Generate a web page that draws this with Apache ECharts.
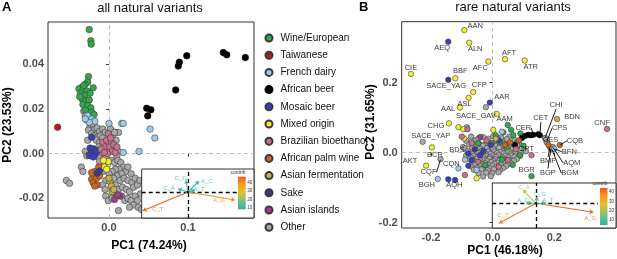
<!DOCTYPE html>
<html>
<head>
<meta charset="utf-8">
<script src="https://cdn.jsdelivr.net/npm/echarts/dist/echarts.min.js"></script>
<style>
  html, body { margin: 0; padding: 0; background: #fff; }
  #chart { width: 617px; height: 259px; }
</style>
</head>
<body>
<div id="chart"></div>
<script>
// ---- data: panel A (all natural variants) ----
const aWine = [[-0.025,0.0555],[-0.023,0.0505],[-0.0225,0.049],[-0.026,0.0345],[-0.027,0.032],[-0.03,0.031],[-0.035,0.0295],[-0.038,0.029],[-0.033,0.0285],[-0.028,0.028],[-0.036,0.027],[-0.031,0.026],[-0.034,0.0245],[-0.029,0.0235],[-0.025,0.024],[-0.033,0.022],[-0.027,0.0215],[-0.023,0.0205],[-0.03,0.0195],[-0.022,0.0185],[-0.019,0.0175],[-0.02,0.0295],[-0.024,0.027],[-0.037,0.0255],[-0.032,0.0305]];
const aTaiwan = [[-0.065,0.0118]];
const aDairy = [[-0.027,0.017],[-0.022,0.0155],[-0.018,0.0145],[-0.025,0.014],[-0.03,0.0155],[0.0,0.0135],[0.016,0.0135],[0.018,0.0135],[0.018,0.0005],[0.038,0.001],[0.052,0.011],[0.058,0.007]];
const aAfrBeer = [[0.0477,0.0203],[0.053,0.0196],[0.049,0.0169],[0.0844,0.0285],[0.0877,0.0392],[0.089,0.0409],[0.0984,0.0438],[0.1447,0.0452],[0.149,0.0442],[0.1725,0.043]];
const aMosaic = [[-0.022,0.0073],[-0.024,0.0025],[-0.02,0.0022],[-0.017,0.0015],[-0.023,0.0],[-0.018,-0.0005],[-0.025,-0.0008],[-0.02,-0.0015],[-0.015,0.001]];
const aMixed = [[-0.005,-0.004],[-0.002,-0.005],[-0.006,-0.006],[-0.001,-0.0035],[-0.003,-0.007],[-0.007,-0.003]];
const aBrazil = [[-0.001,0.009],[-0.008,0.005],[-0.003,0.006],[0.003,0.005],[-0.005,0.003],[0.001,0.003],[0.006,0.004],[-0.01,0.002],[0.004,0.001],[-0.002,0.0],[0.008,0.0005],[-0.006,0.0005],[0.01,0.003],[0.002,0.007]];
const aPalm = [[-0.018,-0.008],[-0.022,-0.0115],[-0.016,-0.011],[-0.02,-0.013],[-0.015,-0.014],[-0.022,-0.0085],[-0.012,-0.01],[-0.018,-0.0145],[-0.013,-0.006]];
const aAsianFerm = [[0.001,-0.0125],[0.003,-0.0145],[0.004,-0.017],[0.0,-0.011],[0.006,-0.016]];
const aSake = [[-0.015,-0.0088],[-0.012,-0.0078]];
const aIslands = [[0.007,-0.0205],[0.014,-0.019],[0.011,-0.0185]];
const aOther = [[-0.032,0.019],[-0.03,0.017],[-0.028,0.015],[-0.024,0.012],[-0.02,0.013],[-0.018,0.011],[-0.015,0.0115],[-0.026,0.0105],[-0.012,0.01],[-0.008,0.011],[-0.005,0.0095],[0.004,0.009],[0.008,0.0095],[0.012,0.0095],
  [-0.022,0.009],[-0.019,0.008],[-0.014,0.0075],[-0.011,0.008],[-0.016,0.006],[-0.012,0.005],[-0.008,0.007],[-0.027,0.006],[0.005,0.007],[0.009,0.006],
  [-0.03,0.001],[-0.028,-0.001],[-0.013,0.003],[-0.01,0.0],[-0.012,-0.002],[0.006,0.002],[0.012,0.001],[0.01,-0.001],[-0.008,-0.003],
  [-0.01,-0.005],[-0.004,-0.002],[0.003,-0.003],[0.007,-0.004],[0.011,-0.003],[0.015,-0.004],[0.018,-0.006],[0.013,-0.007],[0.008,-0.007],[0.004,-0.008],[0.0,-0.009],[-0.008,-0.008],[0.021,-0.008],[0.016,-0.009],[0.024,-0.006],[0.028,-0.009],[-0.012,-0.0035],
  [0.01,-0.01],[0.006,-0.011],[0.014,-0.012],[0.019,-0.011],[0.024,-0.012],[0.029,-0.013],[0.033,-0.011],[-0.004,-0.012],[-0.008,-0.014],[-0.005,-0.016],[0.008,-0.014],[0.012,-0.016],[0.017,-0.015],[0.022,-0.016],[0.026,-0.017],[0.031,-0.015],[0.036,-0.014],[0.039,-0.012],
  [-0.004,-0.019],[-0.001,-0.021],[0.004,-0.02],[0.009,-0.018],[0.016,-0.019],[0.02,-0.021],[0.024,-0.02],[0.028,-0.021],[0.033,-0.019],[0.036,-0.021],[0.04,-0.018],[0.031,-0.023],[0.037,-0.024],[0.041,-0.025],[0.026,-0.024],[0.012,-0.0255],
  [-0.054,-0.012],[-0.05,-0.0133],[-0.035,-0.006],[-0.033,-0.008],[0.002,0.011],[0.007,0.0095]];

// ---- data: panel B (rare natural variants), third item = label ----
const bWine = [[-0.047,0.027],[-0.003,0.027],[0.024,0.031],[0.067,0.05],[0.088,-0.007],[-0.025,-0.035],[0.045,0.015],[0.08,0.03],[0.03,-0.02],[0.06,0.065],[0.049,0.079],[0.01,0.05],[0.09,0.055],[0.035,0.058],[0.1,0.02],[0.065,-0.035],[0.126,-0.067,'BGR']];
const bDairy = [[-0.068,0.031],[-0.052,-0.049],[-0.111,-0.045,'CQN'],[0.078,0.022],[-0.178,-0.075,'BGH'],[0.2,0.011,'BFN'],[0.03,0.06],[-0.09,-0.02]];
const bAfrBeer = [[0.095,0.042],[0.105,0.048],[0.115,0.051],[0.132,0.051,'CER'],[0.148,0.053],[0.153,0.05,'CET'],[0.124,0.05],[0.072,0.022]];
const bMosaic = [[-0.144,0.317,'AEQ'],[-0.009,0.143,'AAR'],[-0.144,-0.076,'AQH'],[-0.122,-0.078],[-0.006,0.022],[-0.079,-0.002],[-0.068,-0.021],[-0.041,-0.007],[-0.079,-0.037],[0.02,0.035],[-0.03,0.005]];
const bSake = [[-0.144,0.208,'SACE_YAG'],[-0.058,0.01]];
const bMixed = [[-0.092,0.35,'AAN'],[-0.076,0.314,'ALN'],[0.04,0.267,'AFT'],[0.104,0.263,'ATR'],[-0.014,0.26,'AFC'],[-0.265,0.225,'CIE'],[-0.121,0.2125,'BBF'],[-0.063,0.173,'CFP'],[-0.078,0.157,'ASL'],[-0.106,0.129,'AAL'],[0.013,0.111,'AAM'],[-0.142,0.084,'CHG'],[-0.197,0.015,'BCR'],[-0.216,-0.037,'AKT'],[-0.111,0.073],[-0.095,0.067],[-0.093,0.041],[-0.052,-0.073],[0.002,0.065]];
const bBrazil = [[-0.1,0.046],[-0.068,0.027],[-0.047,-0.026],[0.05,-0.021],[-0.09,-0.064],[-0.082,0.067],[0.371,0.068,'CNF'],[0.126,-0.007,'CPT'],[-0.02,0.035],[0.02,-0.04],[0.075,0.01]];
const bPalm = [[0.04,0.022],[0.056,0.029],[0.181,0.022,'CES'],[0.218,0.022,'CQB'],[0.085,0.035]];
const bAsianFerm = [[0.209,0.096,'BDN'],[0.01,0.04]];
const bIslands = [[-0.04,0.045]];
const bOther = [[-0.022,0.13,'SACE_GAV'],[-0.227,0.031,'SACE_YAP'],[-0.169,-0.019,'CQF'],[-0.096,0.016,'BDS'],[0.17,0.042,'CHI'],[0.175,0.03,'CPS'],[0.186,0.016,'BMF'],[0.189,0.012,'BGP'],[0.195,0.016,'AQM'],[0.192,0.01,'BGM'],
  [-0.084,0.073],[-0.07,0.046],[-0.031,0.044],[0.002,0.047],[0.028,0.043],[0.054,0.046],
  [-0.086,0.034],[-0.056,0.036],[-0.018,0.033],[0.011,0.037],[0.041,0.034],[0.071,0.036],
  [-0.046,0.041],[-0.014,0.04],[0.016,0.042],[0.046,0.039],
  [-0.076,0.024],[-0.044,0.026],[-0.026,0.023],[-0.004,0.026],[0.014,0.024],[0.036,0.025],[0.061,0.023],[0.086,0.026],
  [-0.056,0.018],[-0.031,0.02],[-0.011,0.017],[0.009,0.019],[0.031,0.018],[0.054,0.02],[0.079,0.017],
  [-0.091,0.012],[-0.066,0.014],[-0.041,0.011],[-0.019,0.013],[0.001,0.012],[0.021,0.014],[0.044,0.011],[0.066,0.013],[0.101,0.011],
  [-0.081,0.004],[-0.054,0.002],[-0.036,0.005],[-0.014,0.003],[0.006,0.004],[0.026,0.002],[0.049,0.004],[0.074,0.003],[0.108,0.004],
  [-0.066,-0.003],[-0.046,-0.001],[-0.024,-0.002],[-0.006,-0.003],[0.014,-0.001],[0.036,-0.002],[0.059,-0.003],[0.091,-0.001],
  [-0.086,-0.008],[-0.061,-0.009],[-0.039,-0.007],[-0.021,-0.009],[0.001,-0.008],[0.019,-0.007],[0.041,-0.009],[0.061,-0.008],[0.089,-0.009],
  [-0.071,-0.014],[-0.049,-0.012],[-0.029,-0.014],[-0.009,-0.013],[0.011,-0.012],[0.031,-0.014],[0.051,-0.013],[0.071,-0.012],
  [-0.074,-0.019],[-0.051,-0.018],[-0.031,-0.02],[-0.011,-0.017],[0.009,-0.019],[0.029,-0.018],[0.049,-0.02],[0.079,-0.018],
  [-0.061,-0.024],[-0.041,-0.022],[-0.019,-0.024],[0.001,-0.023],[0.021,-0.022],[0.041,-0.024],[0.069,-0.023],
  [-0.066,-0.029],[-0.044,-0.028],[-0.024,-0.03],[-0.004,-0.027],[0.016,-0.029],[0.036,-0.028],[0.059,-0.03],
  [-0.056,-0.034],[-0.034,-0.033],[-0.014,-0.035],[0.006,-0.032],[0.026,-0.034],[0.049,-0.033],
  [-0.071,-0.039],[-0.041,-0.038],[-0.021,-0.04],[-0.001,-0.037],[0.019,-0.039],[0.044,-0.038],
  [-0.051,-0.044],[-0.031,-0.043],[-0.009,-0.045],[0.011,-0.042],[0.034,-0.044],
  [-0.061,-0.049],[-0.036,-0.048],[-0.016,-0.05],[0.004,-0.047],[0.024,-0.049],
  [-0.046,-0.058],[-0.021,-0.057],[-0.001,-0.059],[0.019,-0.056],
  [-0.031,-0.068],[-0.006,-0.067]];

// ---- loadings (biplot insets) ----
const loadNames = ['C_T','A_G','C_A','C_G','A_C','A_T'];
const loadAx = [-0.978, 1.015, -0.216, -0.043, 0.238, 0.15];
const loadAy = [-0.719, -0.308, 0.115, 0.46, 0.42, 0.08];
const contribA = [46, 40, 10, 11, 10, 10];
const loadBx = [-0.847, 1.311, -0.297, 0.023, -0.229, 0.229];
const loadBy = [-0.81, -0.364, 0.538, 0.255, 0.012, 0.012];
const contribB = [40, 43, 22, 10, 10, 10];
const contribTicks = [10, 20, 30, 40];

const axisTicksA_x = [0, 0.1];
const axisTicksA_y = [-0.02, 0, 0.02, 0.04];
const axisTicksB = [-0.2, 0, 0.2];

// ---- styling ----
const groupNames = ['Wine/European','Taiwanese','French dairy','African beer','Mosaic beer','Mixed origin','Brazilian bioethanol','African palm wine','Asian fermentation','Sake','Asian islands','Other'];
const groupColors = {
  'Wine/European': '#34a84c', 'Taiwanese': '#c1161c', 'French dairy': '#9fcbea', 'African beer': '#000000',
  'Mosaic beer': '#3a3fc2', 'Mixed origin': '#f3ee33', 'Brazilian bioethanol': '#c9728b', 'African palm wine': '#d2661c',
  'Asian fermentation': '#c6b048', 'Sake': '#3b3a90', 'Asian islands': '#a0408c', 'Other': '#a9a9a9'
};
const FONT = '"Liberation Sans", Arial, Helvetica, sans-serif';
// label nudges in px (dx, dy from the point)
const nudge = {
  AAN:[11,-4], AEQ:[-6,6], ALN:[6,6], AFT:[4,-6], ATR:[6,6], AFC:[-8,6], CIE:[0,-6], BBF:[5,-7],
  SACE_YAG:[-2,6], CFP:[6,-7], AAR:[12,-6], ASL:[-4,6], AAL:[-12,1], SACE_GAV:[-10,9], AAM:[8,5],
  CHG:[-13,3], SACE_YAP:[8,-6], BCR:[3,7], AKT:[-16,-5], CQF:[-12,13], CQN:[-7,-5], BDS:[-6,3],
  BGH:[-11,6], AQH:[6,6], CER:[-10,-7], CET:[1,-17], CHI:[11,-33], BDN:[15,-2], CPS:[13,-14],
  CES:[2,-5], CQB:[15,-4], BFN:[15,3], BMF:[-2,14], BGP:[-3,24], AQM:[19,16], BGM:[18,24],
  BGR:[-5,-6], CPT:[-5,-6], CNF:[-5,-6]
};
const lined = new Set(['CQF','CET','CHI','CPS','CQB','BFN','BMF','BGP','AQM','BGM','CER']);
const tipNudgeA = { C_T:[15,-1.5], A_G:[-16,0], C_A:[-9,-1], C_G:[-5,-2], A_C:[8,0], A_T:[4,-1] };
const tipNudgeB = { C_T:[4,-8], A_G:[-3,6], C_A:[1,-3], C_G:[3,-3], A_C:[-3,-3], A_T:[2,-3] };

const barStops = [[0,'#26b3b8'],[0.3,'#8bbf74'],[0.55,'#e5c12b'],[0.8,'#f7941d'],[1,'#f15a22']];
function hexRgb(h){ return [1,3,5].map(i => parseInt(h.substr(i,2),16)); }
function contribColor(v, lo, hi) {
  const t = Math.max(0, Math.min(1, (v - lo) / (hi - lo)));
  for (let i = 1; i < barStops.length; i++) {
    if (t <= barStops[i][0]) {
      const f = (t - barStops[i-1][0]) / (barStops[i][0] - barStops[i-1][0]);
      const a = hexRgb(barStops[i-1][1]), b = hexRgb(barStops[i][1]);
      return 'rgb(' + a.map((c, k) => Math.round(c + (b[k] - c) * f)).join(',') + ')';
    }
  }
  return barStops[barStops.length-1][1];
}
const barGradient = {
  type: 'linear', x: 0, y: 0, x2: 0, y2: 1,
  colorStops: barStops.map(s => ({ offset: 1 - s[0], color: s[1] })).reverse()
};

// ---- layout ----
const gridA = { left: 48, top: 22, width: 206, height: 196 };
const gridB = { left: 401.7, top: 21.7, width: 214.3, height: 206.3 };
const insetA = { left: 141.7, top: 169, width: 96.3, height: 49 };
const insetB = { left: 492.3, top: 183, width: 105.7, height: 45 };
const barA = { left: 238, top: 176.7, width: 7.7, height: 32.6 };
const barB = { left: 600, top: 188, width: 9.3, height: 37 };

function mainAxis(idx, range, ticks, digits) {
  return {
    gridIndex: idx, type: 'value', min: range[0], max: range[1],
    axisLine: { show: false }, splitLine: { show: false },
    axisTick: { show: true, length: 3, customValues: ticks, lineStyle: { color: '#333' } },
    axisLabel: { customValues: ticks, formatter: v => v.toFixed(digits), fontSize: 11, fontWeight: 'bold', color: '#4d4d4d', margin: 4, fontFamily: FONT, hideOverlap: false }
  };
}
function hiddenAxis(idx, range) {
  return { gridIndex: idx, type: 'value', min: range[0], max: range[1], show: false, splitLine: { show: false } };
}

function groupSeries(name, pts, ax, size) {
  return {
    type: 'scatter', name, xAxisIndex: ax, yAxisIndex: ax,
    data: pts.map(p => [p[0], p[1]]), symbolSize: size, z: 2,
    itemStyle: { color: groupColors[name], borderColor: name === 'African beer' ? '#000' : '#3a3a3a', borderWidth: 0.6, opacity: 1 },
    emphasis: { disabled: true }
  };
}

const aSets = [['Other',aOther],['Wine/European',aWine],['Taiwanese',aTaiwan],['French dairy',aDairy],['African beer',aAfrBeer],['Mosaic beer',aMosaic],['Mixed origin',aMixed],['Brazilian bioethanol',aBrazil],['African palm wine',aPalm],['Asian fermentation',aAsianFerm],['Sake',aSake],['Asian islands',aIslands]];
const bSets = [['Other',bOther],['Wine/European',bWine],['French dairy',bDairy],['African beer',bAfrBeer],['Mosaic beer',bMosaic],['Mixed origin',bMixed],['Brazilian bioethanol',bBrazil],['African palm wine',bPalm],['Asian fermentation',bAsianFerm],['Sake',bSake],['Asian islands',bIslands]];

const series = [];
// dashed zero lines (under points)
[0, 1].forEach(ax => series.push({
  type: 'scatter', xAxisIndex: ax, yAxisIndex: ax, data: [], silent: true,
  markLine: { z: 1, silent: true, symbol: 'none', label: { show: false }, animation: false,
    lineStyle: { color: '#bdbdbd', type: [4, 3], width: 1 }, data: [{ xAxis: 0 }, { yAxis: 0 }] }
}));
aSets.forEach(([n, p]) => series.push(groupSeries(n, p, 0, 6.5)));
bSets.forEach(([n, p]) => series.push(groupSeries(n, p, 1, 5.5)));

// point labels for panel B
const named = [];
bSets.forEach(([n, p]) => p.forEach(q => { if (q[2]) named.push(q); }));
function labelSeries(list, withLine) {
  return {
    type: 'scatter', xAxisIndex: 1, yAxisIndex: 1, z: 4, silent: true,
    data: list.map(q => ({ value: [q[0], q[1]], name: q[2] })),
    symbolSize: 1, itemStyle: { color: 'rgba(0,0,0,0)' },
    label: { show: true, position: 'top', distance: 0, formatter: '{b}', fontSize: 7.5, color: '#000', textBorderWidth: 0, fontFamily: FONT },
    labelLayout: p => {
      const d = nudge[list[p.dataIndex][2]] || [0, 0];
      return { x: p.rect.x + p.rect.width / 2 + d[0], y: p.rect.y + p.rect.height / 2 + d[1], align: 'center', verticalAlign: 'middle' };
    },
    labelLine: { show: withLine, lineStyle: { color: '#000', width: 0.9 } }
  };
}
series.push(labelSeries(named.filter(q => !lined.has(q[2])), false));
series.push(labelSeries(named.filter(q => lined.has(q[2])), true));

// insets: arrows + tip labels
function insetSeries(ax, lx, ly, contrib, lo, hi, tipNudge) {
  series.push({
    type: 'scatter', xAxisIndex: ax, yAxisIndex: ax, data: [], silent: true,
    markLine: { z: 7, silent: true, symbol: 'none', label: { show: false }, animation: false,
      lineStyle: { color: '#000', type: [4, 3], width: 1.3 }, data: [{ xAxis: 0 }, { yAxis: 0 }] }
  });
  series.push({
    type: 'lines', coordinateSystem: 'cartesian2d', xAxisIndex: ax, yAxisIndex: ax, z: 8, silent: true,
    symbol: ['none', 'arrow'], symbolSize: 4,
    data: loadNames.map((n, i) => ({ coords: [[0, 0], [lx[i], ly[i]]], lineStyle: { color: contribColor(contrib[i], lo, hi), width: 1.1, opacity: 1 } }))
  });
  series.push({
    type: 'scatter', xAxisIndex: ax, yAxisIndex: ax, z: 9, silent: true, symbolSize: 1,
    itemStyle: { color: 'rgba(0,0,0,0)' },
    data: loadNames.map((n, i) => ({
      value: [lx[i], ly[i]], name: n,
      label: { show: true, position: 'inside', formatter: '{b}', offset: tipNudge[n], fontSize: 6, fontFamily: FONT, color: contribColor(contrib[i], lo, hi), textBorderWidth: 0 }
    }))
  });
  series.push({
    type: 'scatter', xAxisIndex: ax, yAxisIndex: ax, z: 9, silent: true, symbolSize: 2.5,
    itemStyle: { color: '#000' }, data: [[0, 0]]
  });
}
insetSeries(2, loadAx, loadAy, contribA, 8, 47, tipNudgeA);
insetSeries(3, loadBx, loadBy, contribB, 5, 44, tipNudgeB);

function barAxis(idx, range) {
  return {
    gridIndex: idx, type: 'value', min: range[0], max: range[1], position: 'right', z: 10,
    axisLine: { show: false }, splitLine: { show: false },
    axisTick: { show: true, inside: true, length: 1.5, customValues: contribTicks, lineStyle: { color: '#fff', width: 0.6 } },
    axisLabel: { customValues: contribTicks, fontSize: 4.5, color: '#333', margin: 1.5, fontFamily: FONT },
    name: 'contrib', nameLocation: 'end', nameGap: 2,
    nameTextStyle: { fontSize: 5, color: '#333', fontFamily: FONT }
  };
}

function axisTitle(text, x, y, vertical) {
  return { type: 'text', z: 10, x, y, rotation: vertical ? Math.PI / 2 : 0, silent: true,
    style: { text, font: 'bold 12px ' + FONT, fill: '#000', textAlign: 'center', textVerticalAlign: 'middle' } };
}

const option = {
  animation: false,
  backgroundColor: '#fff',
  textStyle: { fontFamily: FONT },
  grid: [
    Object.assign({ show: true, borderColor: '#333', borderWidth: 1, backgroundColor: '#fff', z: 0 }, gridA),
    Object.assign({ show: true, borderColor: '#333', borderWidth: 1, backgroundColor: '#fff', z: 0 }, gridB),
    Object.assign({ show: false }, insetA),
    Object.assign({ show: false }, insetB),
    Object.assign({ show: true, borderWidth: 0, backgroundColor: barGradient, z: 9 }, barA),
    Object.assign({ show: true, borderWidth: 0, backgroundColor: barGradient, z: 9 }, barB)
  ],
  xAxis: [
    mainAxis(0, [-0.0772, 0.1835], axisTicksA_x, 1),
    mainAxis(1, [-0.295, 0.40], axisTicksB, 1),
    hiddenAxis(2, [-1, 1.08]),
    hiddenAxis(3, [-1, 1.419]),
    hiddenAxis(4, [0, 1]),
    hiddenAxis(5, [0, 1])
  ],
  yAxis: [
    mainAxis(0, [-0.0288, 0.0589], axisTicksA_y, 2),
    mainAxis(1, [-0.215, 0.374], axisTicksB, 1),
    hiddenAxis(2, [-1, 0.885]),
    hiddenAxis(3, [-1, 0.822]),
    barAxis(4, [8, 47]),
    barAxis(5, [5, 44])
  ],
  legend: {
    data: groupNames, orient: 'vertical', left: 259.5, top: 27,
    icon: 'circle', itemWidth: 13, itemHeight: 7, itemGap: 5.2, selectedMode: false,
    textStyle: { fontSize: 10, color: '#111', lineHeight: 12, fontFamily: FONT }
  },
  graphic: [
    { type: 'rect', z: 5, silent: true, shape: { x: 141.7, y: 169, width: 112.3, height: 49 }, style: { fill: '#fff', stroke: '#000', lineWidth: 0.8 } },
    { type: 'rect', z: 5, silent: true, shape: { x: 492.3, y: 183, width: 123.7, height: 45 }, style: { fill: '#fff', stroke: '#000', lineWidth: 0.8 } },
    { type: 'text', z: 10, left: 2, top: 1, style: { text: 'A', font: 'bold 13px ' + FONT, fill: '#000' } },
    { type: 'text', z: 10, left: 359, top: 1, style: { text: 'B', font: 'bold 13px ' + FONT, fill: '#000' } },
    { type: 'text', z: 10, x: 150, y: 8, style: { text: 'all natural variants', font: '13px ' + FONT, fill: '#111', textAlign: 'center', textVerticalAlign: 'middle' } },
    { type: 'text', z: 10, x: 513, y: 7, style: { text: 'rare natural variants', font: '13px ' + FONT, fill: '#111', textAlign: 'center', textVerticalAlign: 'middle' } },
    axisTitle('PC1 (74.24%)', 149, 246, false),
    axisTitle('PC1 (46.18%)', 505, 251, false),
    axisTitle('PC2 (23.53%)', 8, 125, true),
    axisTitle('PC2 (31.65%)', 371, 122, true)
  ],
  series
};

const chart = echarts.init(document.getElementById('chart'), null, { renderer: 'canvas' });
chart.setOption(option);
</script>
</body>
</html>
